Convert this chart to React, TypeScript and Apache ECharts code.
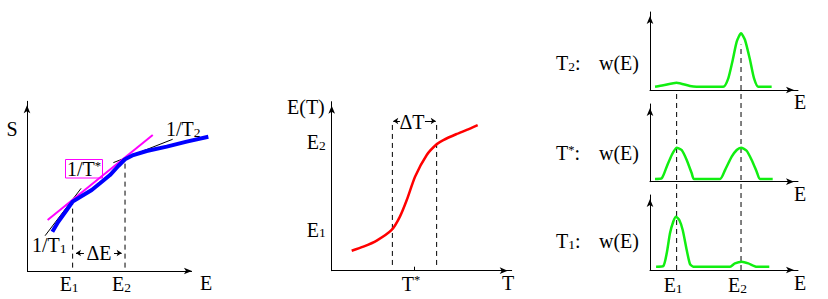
import React, { useEffect, useRef } from 'react';
import * as echarts from 'echarts';

const FONT = 'Liberation Serif';

// ---------- Panel 1: S(E) ----------
const entropyE = [1.5, 1.85, 2.35, 2.7, 3.24, 3.83, 4.32, 4.91, 5.4, 5.8, 6.29, 7.08, 8.27, 9.45, 10.73];
const entropyS = [2.34, 2.93, 3.63, 4.13, 4.46, 4.82, 5.22, 5.71, 6.25, 6.65, 6.9, 7.14, 7.4, 7.7, 7.99];
const tangentStarE = [1.22, 7.44];
const tangentStarS = [3.04, 8.1];
const tangent1E = [1.07, 3.2];
const tangent1S = [2.1, 4.92];
const tangent2E = [5.11, 8.62];
const tangent2S = [6.45, 7.84];
const p1Marks = [2.7, 5.8]; // E1, E2
const p1MarkS = [4.13, 6.65];
const p1DashStart = 0.2;
const p1TickLabels = [['E', '1'], ['E', '2']];
const p1AxisEnd = 10; // E-axis arrow tip
const p1XMax = 11; // curve runs past the arrow tip
const deltaEArrowLeft = [3.37, 2.9];
const deltaEArrowRight = [5.15, 5.6];
const deltaELevel = 1.07;

// ---------- Panel 2: E(T) ----------
const tempT = [1.11, 1.76, 2.5, 3.33, 3.79, 4.17, 4.63, 5.28, 5.83, 6.2, 6.94, 7.5, 8.11];
const energyE = [1.18, 1.42, 1.78, 2.41, 3.2, 4.18, 5.56, 6.85, 7.48, 7.73, 8.09, 8.33, 8.62];
const p2Dashed = [3.37, 5.83];
const p2DashSpan = [0.34, 8.72];
const p2YMarks = [2.43, 7.59];
const p2YLabels = [['E', '1'], ['E', '2']];
const p2TMark = 4.57;
const deltaTArrowLeft = [3.79, 3.42];
const deltaTArrowRight = [5.18, 5.78];
const deltaTLevel = 8.86;

// ---------- Panel 3: w(E) at three temperatures ----------
const wT2E = [0.34, 0.9, 1.8, 2.7, 3.15, 4.95, 5.29, 5.59, 5.86, 6.15, 6.42, 6.76, 7.03, 7.32, 8.22];
const wT2 = [0.42, 0.6, 0.94, 0.51, 0.42, 0.42, 1.5, 3.85, 6.2, 7.27, 6.41, 3.85, 1.5, 0.42, 0.42];
const wStarE = [0.34, 0.79, 1.13, 1.47, 1.8, 2.14, 2.48, 2.82, 2.97, 4.73, 5.07, 5.52, 5.86, 6.15, 6.53, 6.87, 7.21, 7.43, 8.29];
const wStar = [0.35, 0.44, 1.93, 3.44, 4.38, 4.08, 2.8, 1.08, 0.35, 0.35, 1.5, 3.22, 4.08, 4.38, 3.99, 2.8, 1.29, 0.35, 0.35];
const wT1E = [0.41, 0.9, 1.13, 1.35, 1.57, 1.76, 1.98, 2.21, 2.48, 2.7, 2.93, 5.41, 5.74, 6.2, 6.64, 7.21, 8.06];
const wT1 = [0.44, 0.53, 2.23, 4.89, 6.44, 7.11, 6.67, 5.33, 2.67, 0.8, 0.44, 0.44, 0.89, 1.11, 0.89, 0.44, 0.44];
const p3Marks = [1.8, 6.15];
const p3MarkTop = [24.0, 31.56]; // in bottom-panel units
const p3TickLabels = [['E', '1'], ['E', '2']];

const rich: any = {
  m: { fontFamily: FONT, fontSize: 20, color: '#000', lineHeight: 20 },
  s: { fontFamily: FONT, fontSize: 13.5, color: '#000', lineHeight: 12, verticalAlign: 'bottom' },
  p: { fontFamily: FONT, fontSize: 12.5, color: '#000', lineHeight: 16, verticalAlign: 'top' },
};
const sub = (a: string, b: string) => `{m|${a}}{s|${b}}`;
const sup = (a: string, b: string) => `{m|${a}}{p|${b}}`;

const axisLineBase = {
  show: true,
  onZero: false,
  lineStyle: { color: '#000', width: 1 },
  symbol: ['none', 'arrow'],
  symbolSize: [5, 8],
  symbolOffset: [0, -4],
};

function axis(gridIndex: number, max: number, extra: any = {}) {
  return {
    type: 'value',
    gridIndex,
    min: 0,
    max,
    axisLine: axisLineBase,
    axisTick: { show: false },
    axisLabel: { show: false },
    splitLine: { show: false },
    ...extra,
  };
}

function markLabels(marks: number[], labels: string[][], margin: number, padding: number[]) {
  return {
    show: true,
    customValues: marks,
    margin,
    padding,
    rich,
    formatter: (v: number) => {
      let idx = 0;
      marks.forEach((m, i) => { if (Math.abs(m - v) < 1e-6) idx = i; });
      return sub(labels[idx][0], labels[idx][1]);
    },
  };
}

function line(g: number, xs: number[], ys: number[], color: string, width: number, extra: any = {}) {
  return {
    type: 'line',
    xAxisIndex: g,
    yAxisIndex: g,
    data: xs.map((x, i) => [x, ys[i]]),
    symbol: 'none',
    showSymbol: false,
    clip: false,
    silent: true,
    lineStyle: { color, width },
    itemStyle: { color },
    ...extra,
  };
}

const dashed = (g: number, x: number, y0: number, y1: number) =>
  line(g, [x, x], [y0, y1], '#000', 1, { lineStyle: { color: '#000', width: 1, type: [5, 4] }, z: 1 });

function arrows(g: number, segs: number[][][], size: any) {
  return {
    type: 'line',
    xAxisIndex: g,
    yAxisIndex: g,
    data: [],
    silent: true,
    markLine: {
      silent: true,
      symbol: ['none', 'arrow'],
      symbolSize: 5,
      label: { show: false },
      lineStyle: { color: '#000', width: 1, type: 'solid' },
      data: segs.map((s) => [{ coord: s[0] }, { coord: s[1], symbolSize: size }]),
    },
  };
}

function gtext(x: number, y: number, text: string, align = 'left') {
  return {
    type: 'text',
    x,
    y,
    silent: true,
    style: {
      text,
      rich,
      align,
      textAlign: align,
      verticalAlign: 'middle',
      textVerticalAlign: 'middle',
      font: `20px '${FONT}'`,
      fill: '#000',
    },
  };
}

export default function App() {
  const ref = useRef<HTMLDivElement>(null);
  useEffect(() => {
    document.body.style.margin = '0';
    const chart = echarts.init(ref.current!, null, { renderer: 'svg' });
    const option: any = {
      animation: false,
      backgroundColor: '#fff',
      grid: [
        { left: 27, top: 101.3, width: 185.9, height: 169.7, outerBoundsMode: 'none' },
        { left: 331.7, top: 101.7, width: 180, height: 169, outerBoundsMode: 'none' },
        { left: 650, top: 12, width: 148, height: 78, outerBoundsMode: 'none' },
        { left: 650, top: 104, width: 148, height: 77.7, outerBoundsMode: 'none' },
        { left: 650, top: 195, width: 148, height: 75, outerBoundsMode: 'none' },
      ],
      xAxis: [
        axis(0, p1XMax, {
          axisLine: { show: false },
          axisLabel: markLabels(p1Marks, p1TickLabels, 3, [0, 7, 0, 0]),
        }),
        axis(1, 10, {
          axisTick: { show: true, customValues: [p2TMark], inside: true, length: 4, lineStyle: { color: '#000', width: 1 } },
          axisLabel: {
            show: true,
            customValues: [p2TMark],
            margin: 3,
            padding: [0, 6, 0, 0],
            rich,
            formatter: () => sup('T', '*'),
          },
        }),
        axis(2, 10),
        axis(3, 10),
        axis(4, 10, { axisLabel: markLabels(p3Marks, p3TickLabels, 5, [0, 7, 0, 0]) }),
      ],
      yAxis: [
        axis(0, 10.1),
        axis(1, 10, { axisLabel: markLabels(p2YMarks, p2YLabels, 6, [0, 0, 0, 0]) }),
        axis(2, 10),
        axis(3, 10),
        axis(4, 10),
      ],
      series: [
        // panel 1
        arrows(0, [[[0, 0], [p1AxisEnd - 0.24, 0]]], [5, 8]),
        dashed(0, p1Marks[0], p1DashStart, p1MarkS[0]),
        dashed(0, p1Marks[1], p1DashStart, p1MarkS[1]),
        line(0, tangent1E, tangent1S, '#000', 1),
        line(0, tangent2E, tangent2S, '#000', 1),
        line(0, tangentStarE, tangentStarS, '#ff00ff', 2),
        line(0, entropyE, entropyS, '#0000ff', 4, { z: 3 }),
        arrows(0, [
          [[deltaEArrowLeft[0], deltaELevel], [deltaEArrowLeft[1], deltaELevel]],
          [[deltaEArrowRight[0], deltaELevel], [deltaEArrowRight[1], deltaELevel]],
        ], 5),
        // panel 2
        dashed(1, p2Dashed[0], p2DashSpan[0], p2DashSpan[1]),
        dashed(1, p2Dashed[1], p2DashSpan[0], p2DashSpan[1]),
        line(1, tempT, energyE, '#ff0000', 2.5, { smooth: 0.2, z: 3 }),
        arrows(1, [
          [[deltaTArrowLeft[0], deltaTLevel], [deltaTArrowLeft[1], deltaTLevel]],
          [[deltaTArrowRight[0], deltaTLevel], [deltaTArrowRight[1], deltaTLevel]],
        ], 5),
        // panel 3
        dashed(4, p3Marks[0], 0, p3MarkTop[0]),
        dashed(4, p3Marks[1], 0, p3MarkTop[1]),
        line(2, wT2E, wT2, '#11ee11', 2.5, { smooth: 0.2, z: 3 }),
        line(3, wStarE, wStar, '#11ee11', 2.5, { smooth: 0.2, z: 3 }),
        line(4, wT1E, wT1, '#11ee11', 2.5, { smooth: 0.2, z: 3 }),
      ],
      graphic: [
        // panel 1
        gtext(12, 129, '{m|S}', 'center'),
        gtext(206, 283, '{m|E}', 'center'),
        gtext(166, 129, sub('1/T', '2')),
        gtext(32, 245, sub('1/T', '1')),
        {
          type: 'rect',
          shape: { x: 65.5, y: 159.5, width: 37, height: 18.5 },
          style: { fill: '#fff', stroke: '#ff00ff', lineWidth: 1 },
          silent: true,
        },
        gtext(67, 169, sup('1/T', '*')),
        gtext(99, 252.5, '{m|ΔE}', 'center'),
        // panel 2
        gtext(287, 107, '{m|E(T)}'),
        gtext(508, 283, '{m|T}', 'center'),
        gtext(412, 122, '{m|ΔT}', 'center'),
        // panel 3
        gtext(556, 63, sub('T', '2') + '{m|:}'),
        gtext(599, 63, '{m|w(E)}'),
        gtext(556, 153, sup('T', '*') + '{m|:}'),
        gtext(599, 153, '{m|w(E)}'),
        gtext(556, 241, sub('T', '1') + '{m|:}'),
        gtext(599, 241, '{m|w(E)}'),
        gtext(800, 102, '{m|E}', 'center'),
        gtext(800, 194, '{m|E}', 'center'),
        gtext(800, 283, '{m|E}', 'center'),
      ],
    };
    chart.setOption(option);
    return () => chart.dispose();
  }, []);
  return <div ref={ref} style={{ width: 828, height: 299 }} />;
}
